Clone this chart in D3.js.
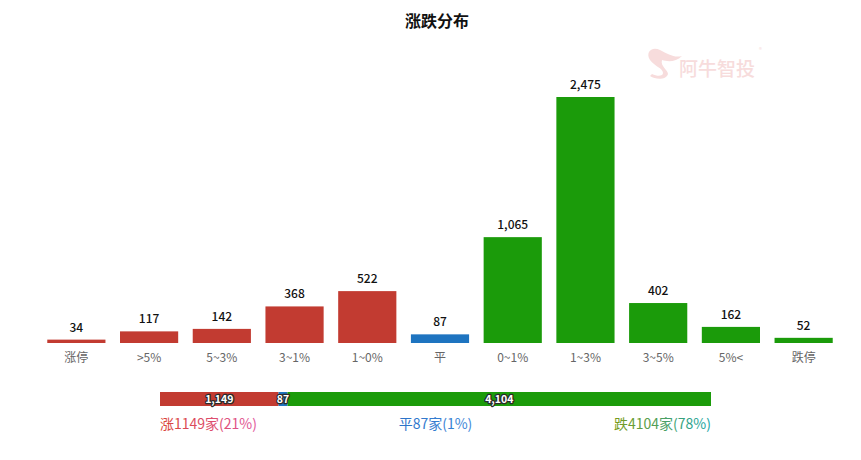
<script src="https://d3js.org/d3.v7.min.js"></script>
<style>
  body { margin: 0; background: #fff; }
  svg { font-family: "Noto Sans CJK SC", "Noto Sans", sans-serif; }
</style>
<svg id="chart"></svg>
<script>
  // category buckets and counts
  var categories = ['涨停', '>5%', '5~3%', '3~1%', '1~0%', '平', '0~1%', '1~3%', '3~5%', '5%<', '跌停'];
  var counts = [34, 117, 142, 368, 522, 87, 1065, 2475, 402, 162, 52];
  var groups = ['up', 'up', 'up', 'up', 'up', 'flat', 'down', 'down', 'down', 'down', 'down'];

  // summary bar
  var summaryKeys = ['up', 'flat', 'down'];
  var summaryValues = [1149, 87, 4104];
  var summaryLabels = ['涨1149家(21%)', '平87家(1%)', '跌4104家(78%)'];

  var width = 861, height = 460;
  var colors = { up: '#c23b31', flat: '#1e74c0', down: '#1b9b0a' };

  var svg = d3.select('#chart').attr('width', width).attr('height', height);

  // title
  svg.append('text')
    .attr('x', 437).attr('y', 27)
    .attr('text-anchor', 'middle')
    .attr('font-size', 16).attr('font-weight', 'bold')
    .attr('fill', '#111')
    .text('涨跌分布');

  // watermark
  var wm = svg.append('g').attr('fill', '#f7dcdc');
  wm.append('path')
    .attr('d', 'M650,60 C645,52 652,46 660,50 C668,54 674,58 682,56 C676,62 668,62 662,60 C660,66 668,70 668,74 C666,80 656,80 650,76 L652,74 C658,77 663,76 663,73 C663,68 654,66 650,60 Z');
  wm.append('text').attr('x', 679).attr('y', 76).attr('font-size', 19)
    .attr('font-weight', 500).text('阿牛智投');
  wm.append('text').attr('x', 759).attr('y', 52).attr('font-size', 6).text('®');

  // main bar chart
  var x = d3.scaleBand().domain(categories).range([40, 840]).paddingInner(0.2).paddingOuter(0.1);
  var y = d3.scaleLinear().domain([0, 2475]).range([343, 97]);

  svg.selectAll('rect.bar')
    .data(counts)
    .enter().append('rect')
    .attr('class', 'bar')
    .attr('x', function(d, i) { return x(categories[i]); })
    .attr('y', function(d) { return y(d); })
    .attr('width', x.bandwidth())
    .attr('height', function(d) { return y(0) - y(d); })
    .attr('fill', function(d, i) { return colors[groups[i]]; });

  svg.selectAll('text.val')
    .data(counts)
    .enter().append('text')
    .attr('class', 'val')
    .attr('x', function(d, i) { return x(categories[i]) + x.bandwidth() / 2; })
    .attr('y', function(d) { return y(d) - 8; })
    .attr('text-anchor', 'middle')
    .attr('font-size', 12).attr('font-weight', 500)
    .attr('fill', '#111')
    .text(function(d) { return d3.format(',')(d); });

  // category axis labels
  var xAxis = svg.append('g')
    .attr('transform', 'translate(0,343)')
    .call(d3.axisBottom(x).tickSize(0).tickPadding(10));
  xAxis.select('.domain').remove();
  xAxis.selectAll('text')
    .attr('font-size', 12)
    .attr('fill', '#666')
    .attr('font-family', '"Noto Sans CJK SC", sans-serif');

  // summary stacked bar
  var total = d3.sum(summaryValues);
  var sx = d3.scaleLinear().domain([0, total]).range([160, 711]);
  var starts = [0];
  for (var i = 1; i < summaryValues.length; i++) starts.push(starts[i - 1] + summaryValues[i - 1]);

  svg.selectAll('rect.sum')
    .data(summaryValues)
    .enter().append('rect')
    .attr('class', 'sum')
    .attr('x', function(d, i) { return sx(starts[i]); })
    .attr('y', 392)
    .attr('width', function(d) { return sx(d) - sx(0); })
    .attr('height', 14)
    .attr('fill', function(d, i) { return colors[summaryKeys[i]]; });

  svg.selectAll('text.sumval')
    .data(summaryValues)
    .enter().append('text')
    .attr('class', 'sumval')
    .attr('x', function(d, i) { return (sx(starts[i]) + sx(starts[i] + d)) / 2; })
    .attr('y', 403)
    .attr('text-anchor', 'middle')
    .attr('font-size', 10.5).attr('font-weight', 'bold')
    .attr('fill', '#fff')
    .attr('stroke', '#2a2a2a').attr('stroke-width', 2.5)
    .attr('stroke-linejoin', 'round')
    .attr('paint-order', 'stroke')
    .text(function(d) { return d3.format(',')(d); });

  // legend gradients
  var defs = svg.append('defs');
  var grads = [['g-up', '#d9443a', '#e0559a'], ['g-flat', '#2b72c8', '#3c86d8'], ['g-down', '#789a1c', '#1ea4a6']];
  grads.forEach(function(g) {
    var lg = defs.append('linearGradient').attr('id', g[0]);
    lg.append('stop').attr('offset', '0%').attr('stop-color', g[1]);
    lg.append('stop').attr('offset', '100%').attr('stop-color', g[2]);
  });

  var legendX = [160, 435.5, 711];
  var anchors = ['start', 'middle', 'end'];
  svg.selectAll('text.leg')
    .data(summaryLabels)
    .enter().append('text')
    .attr('class', 'leg')
    .attr('x', function(d, i) { return legendX[i]; })
    .attr('y', 429)
    .attr('text-anchor', function(d, i) { return anchors[i]; })
    .attr('font-size', 14)
    .attr('fill', function(d, i) { return 'url(#' + grads[i][0] + ')'; })
    .text(function(d) { return d; });
</script>
